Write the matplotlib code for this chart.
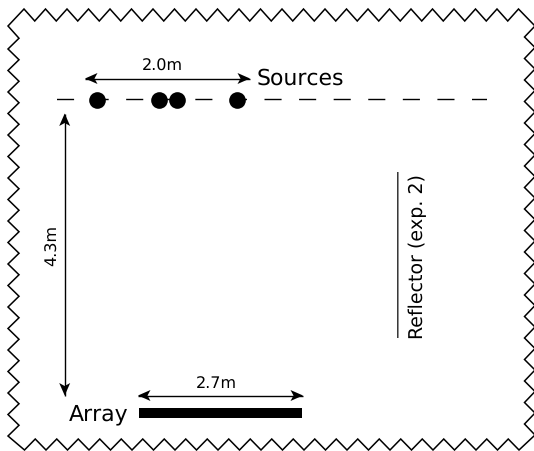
import numpy as np
import matplotlib
matplotlib.use("Agg")
import matplotlib.pyplot as plt
from matplotlib.patches import Polygon, Rectangle

plt.rcParams["text.hinting"] = "none"
plt.rcParams["text.hinting_factor"] = 1

W, H = 534, 452
source_x = [97, 159, 177, 237]
source_y = 100.5
source_line_x = [57, 487]
array_span = [138.5, 302]
array_y = [409, 419]
reflector_x = 397.8
reflector_span = [173, 339]

fig = plt.figure(figsize=(W / 100, H / 100), dpi=100)
ax = fig.add_axes([0, 0, 1, 1])
ax.set_xlim(0, W)
ax.set_ylim(H, 0)
ax.axis("off")

# Torn-paper outline, drawn clockwise from the top-left tooth
step = 21.5
pts = []
for k in range(23):
    pts += [(24 + step * k, 10), (24 + step * (k + .5), 22)]
pts += [(518.5, 10)]
for k in range(19):
    pts += [(535, 27 + step * k), (524.5, 38 + step * k)]
pts += [(535, 436)]
for k in range(23, 0, -1):
    pts += [(24.5 + step * k, 451), (24.5 + step * (k - .5), 440)]
pts += [(24.5, 451)]
for k in range(19, 0, -1):
    pts += [(8, 28.5 + step * k), (19, 28.5 + step * (k - .5))]
pts += [(8, 27)]
ax.add_patch(Polygon(pts, closed=True, fill=False, ec="black", lw=1.1, joinstyle="miter"))


def stealth(tip, toward, length=12.5, half=5.5, notch=3):
    t = np.array(tip, float)
    u = np.array(toward, float) - t
    u /= np.hypot(*u)
    n = np.array([-u[1], u[0]])
    ax.add_patch(Polygon([t, t + u * length + n * half, t + u * (length - notch), t + u * length - n * half],
                         closed=True, fc="black", ec="none", zorder=4))


def dim(a, b):
    ax.plot([a[0], b[0]], [a[1], b[1]], color="black", lw=1, solid_capstyle="butt", zorder=3)
    stealth(a, b)
    stealth(b, a)


ax.plot(source_line_x, [source_y, source_y], color="black", lw=1, dashes=(12.3, 12.6),
        dash_capstyle="butt", zorder=1, snap=False)
ax.plot(source_x, [source_y] * len(source_x), "o", color="black", ms=12, mew=0, zorder=2)

dim((85, 79.5), (250, 79.5))
dim((64.7, 114.5), (64.7, 396.5))
dim((138, 396.5), (303, 396.5))
ax.add_patch(Rectangle((array_span[0], array_y[0]), array_span[1] - array_span[0],
                       array_y[1] - array_y[0], fc="black", ec="none"))
ax.plot([reflector_x] * 2, reflector_span, color="#222222", lw=1, solid_capstyle="butt", snap=False)

ax.text(162.5, 66.5, "2.0m", fontsize=11.8, ha="center", va="center")
ax.text(216, 384, "2.7m", fontsize=11.8, ha="center", va="center")
ax.text(53, 245, "4.3m", fontsize=11.8, ha="center", va="center", rotation=90)
ax.text(300, 79, "Sources", fontsize=15.9, ha="center", va="center")
ax.text(98.5, 414.5, "Array", fontsize=15.9, ha="center", va="center")
ax.text(418, 256.5, "Reflector (exp. 2)", fontsize=13.8, ha="center", va="center", rotation=90)

fig.savefig("out.png", dpi=100)
